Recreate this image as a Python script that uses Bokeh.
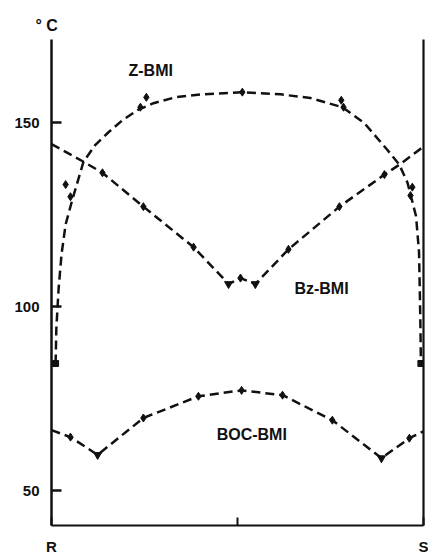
from bokeh.plotting import figure
from bokeh.models import Range1d, FixedTicker, LinearAxis, Label
from bokeh.embed import file_html
from bokeh.resources import INLINE

# ---- data (x: composition R=0 .. S=100, y: temperature in deg C) ----
z_curve_x = [1.1, 1.3, 1.9, 2.7, 3.8, 5.6, 8.6, 11.8, 15.1, 19.1, 23.1, 27.4, 33.3, 40.1,
             51.3, 61.6, 69.6, 78.2, 84.1, 90.3, 93.5, 95.7, 98.0, 98.8, 99.0, 99.2, 99.3]
z_curve_y = [84.6, 94.0, 104.8, 114.3, 122.4, 129.1, 139.4, 144.0, 147.2, 150.7, 153.4, 155.3,
             156.9, 157.7, 158.3, 157.7, 156.7, 154.2, 149.9, 142.6, 138.6, 133.7, 124.6,
             114.8, 104.8, 93.2, 84.6]
z_pts_x = [3.8, 5.1, 23.9, 25.5, 51.3, 77.9, 78.5, 97.0, 96.5]
z_pts_y = [133.2, 129.9, 154.2, 156.9, 158.3, 156.1, 154.2, 132.5, 130.2]
z_end_x = [1.1, 99.3]
z_end_y = [84.6, 84.6]

bz_x = [0, 8.6, 13.7, 24.7, 38.2, 47.6, 50.8, 54.8, 63.7, 77.4, 89.5, 93.5, 100]
bz_y = [144.2, 139.4, 136.4, 127.2, 116.2, 106.2, 107.8, 106.2, 115.6, 127.2, 135.9, 138.6, 143.5]
bz_pts_x = [13.7, 24.7, 38.2, 50.8, 63.7, 77.4, 89.5]
bz_pts_y = [136.4, 127.2, 116.2, 107.8, 115.6, 127.2, 135.9]
bz_min_x = [47.6, 54.8]
bz_min_y = [106.2, 106.2]

boc_x = [0, 5.1, 12.4, 24.7, 39.5, 51.1, 62.1, 75.5, 88.7, 96.2, 100]
boc_y = [66.5, 64.6, 59.8, 69.8, 75.7, 77.3, 76.0, 69.2, 58.9, 64.3, 66.2]
boc_pts_x = [5.1, 24.7, 39.5, 51.1, 62.1, 75.5, 96.2]
boc_pts_y = [64.6, 69.8, 75.7, 77.3, 76.0, 69.2, 64.3]
boc_min_x = [12.4, 88.7]
boc_min_y = [59.8, 58.9]

y_ticks = [50, 100, 150]
x_ticks = [0, 50, 100]
x_tick_labels = {0: "R", 50: "", 100: "S"}

FONT = "Liberation Sans"
INK = "#111111"

p = figure(width=428, height=557, output_backend="svg", toolbar_location=None,
           x_range=Range1d(0, 100), y_range=Range1d(40.6, 172.6),
           min_border_left=51, min_border_right=5, min_border_top=39, min_border_bottom=29,
           x_axis_location="below", y_axis_location="left")
p.title.text = "° C"
p.title.align = "left"
p.title.offset = -16
p.title.standoff = 12
p.title.text_font = FONT
p.title.text_font_style = "bold"
p.title.text_font_size = "16px"
p.title.text_color = INK
p.outline_line_color = None
p.grid.visible = False
p.background_fill_color = "white"
p.border_fill_color = "white"

# left axis
ya = p.yaxis[0]
ya.ticker = FixedTicker(ticks=y_ticks)
ya.major_tick_in = 10
ya.major_tick_out = 0
ya.minor_tick_line_color = None
ya.axis_line_width = 2.5
ya.major_tick_line_width = 2.5
ya.axis_line_color = INK
ya.major_tick_line_color = INK
ya.major_label_standoff = 12
ya.major_label_text_font = FONT
ya.major_label_text_font_style = "bold"
ya.major_label_text_font_size = "15px"
ya.major_label_text_color = INK

# bottom axis
xa = p.xaxis[0]
xa.ticker = FixedTicker(ticks=x_ticks)
xa.major_label_overrides = x_tick_labels
xa.major_tick_in = 8
xa.major_tick_out = 0
xa.minor_tick_line_color = None
xa.axis_line_width = 2.2
xa.major_tick_line_width = 2
xa.axis_line_color = INK
xa.major_tick_line_color = INK
xa.major_label_standoff = 12
xa.major_label_text_font = FONT
xa.major_label_text_font_style = "bold"
xa.major_label_text_font_size = "15px"
xa.major_label_text_color = INK

# right axis (line only)
ra = LinearAxis(ticker=FixedTicker(ticks=[]), major_tick_in=0, major_tick_out=0,
                minor_tick_line_color=None, major_label_text_font_size="0px",
                major_label_standoff=0, axis_line_width=2.2, axis_line_color=INK)
p.add_layout(ra, "right")

dash = "9 5"
lw = 2.5
p.line(z_curve_x, z_curve_y, line_color=INK, line_width=lw, line_dash=dash)
p.line(bz_x, bz_y, line_color=INK, line_width=lw, line_dash=dash)
p.line(boc_x, boc_y, line_color=INK, line_width=lw, line_dash=dash)

p.scatter(z_pts_x, z_pts_y, marker="diamond", size=8, color=INK)
p.scatter(z_end_x, z_end_y, marker="square", size=6, color=INK)
p.scatter(bz_pts_x, bz_pts_y, marker="diamond", size=8, color=INK)
p.scatter(bz_min_x, bz_min_y, marker="inverted_triangle", size=8, color=INK)
p.scatter(boc_pts_x, boc_pts_y, marker="diamond", size=8, color=INK)
p.scatter(boc_min_x, boc_min_y, marker="inverted_triangle", size=8, color=INK)

def lab(x, y, t, size="16px"):
    p.add_layout(Label(x=x, y=y, text=t, text_font=FONT, text_font_style="bold",
                       text_font_size=size, text_color=INK, text_baseline="middle",
                       text_align="left"))

lab(20.7, 164.2, "Z-BMI")
lab(65.3, 105.1, "Bz-BMI")
lab(44.4, 65.2, "BOC-BMI")

open("out.html", "w").write(file_html(p, INLINE))
